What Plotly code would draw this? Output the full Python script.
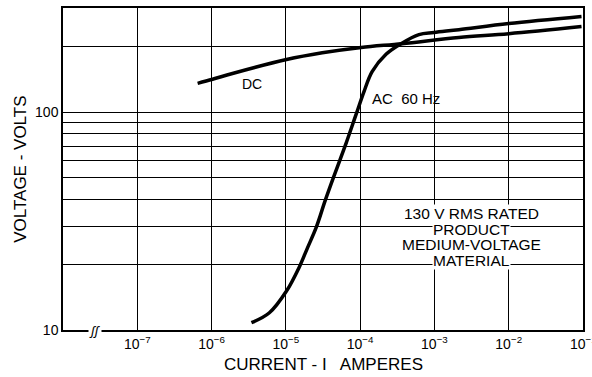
import math
import plotly.graph_objects as go

# AC 60 Hz curve (amperes, volts)
ac_current = [3.44e-6, 6.0e-6, 1.02e-5, 1.52e-5, 1.95e-5, 2.57e-5, 3.39e-5, 4.48e-5,
              6.46e-5, 8.82e-5, 1.13e-4, 1.45e-4, 2.23e-4, 3.55e-4, 6.19e-4,
              9.84e-4, 2.13e-3, 1.0e-2, 9.55e-2]
ac_voltage = [10.8, 12.0, 15.1, 19.5, 23.8, 29.7, 39.4, 51.4,
              72.1, 97.9, 125, 154, 185, 207, 228,
              233, 240, 256, 276]

# DC curve
dc_current = [6.49e-7, 1.03e-6, 1.91e-6, 1.02e-5, 3.09e-5, 1.03e-4, 3.66e-4,
              2.13e-3, 1.0e-2, 9.55e-2]
dc_voltage = [136, 142, 151, 175, 188, 199, 207, 221, 230, 248]

x_ticks = [1e-7, 1e-6, 1e-5, 1e-4, 1e-3, 1e-2]
x_labels = ['10<sup>−7</sup>', '10<sup>−6</sup>', '10<sup>−5</sup>', '10<sup>−4</sup>',
            '10<sup>−3</sup>', '10<sup>−2</sup>']
# last decade sits on the right border, its label runs off the page
edge_tick = -1
edge_label = '10<sup>−1</sup>'
y_ticks = [10, 20, 30, 40, 50, 60, 70, 80, 90, 100, 200]
y_labels = ['10', '', '', '', '', '', '', '', '', '100', '']

note_lines = ['130 V RMS RATED', 'PRODUCT', 'MEDIUM-VOLTAGE', 'MATERIAL']
note_volts = [34.4, 29.1, 24.8, 20.9]

font = 'Liberation Sans'

fig = go.Figure()
fig.add_trace(go.Scatter(x=dc_current, y=dc_voltage, mode='lines', line_shape='spline',
                         line=dict(color='black', width=3.5), name='DC'))
fig.add_trace(go.Scatter(x=ac_current, y=ac_voltage, mode='lines', line_shape='spline',
                         line=dict(color='black', width=3.5), name='AC 60 Hz'))

ann = [
    dict(x=-5.45, y=2.133, xref='x', yref='y', text='DC', showarrow=False,
         font=dict(size=14)),
    dict(x=-3.38, y=2.064, xref='x', yref='y', text='AC  60 Hz', showarrow=False,
         font=dict(size=15)),
    dict(x=0.5, y=-0.108, xref='paper', yref='paper', text='CURRENT - I   AMPERES',
         showarrow=False, font=dict(size=17), yanchor='middle'),
    dict(x=-0.083, y=0.5, xref='paper', yref='paper', text='VOLTAGE - VOLTS',
         showarrow=False, textangle=-90, font=dict(size=17), xanchor='center'),
    dict(x=-7.57, y=1.0, xref='x', yref='y', text='<i>ʃʃ</i>', showarrow=False,
         bgcolor='white', font=dict(size=13), borderpad=0),
    dict(x=edge_tick, y=-0.04, xref='x', yref='paper', text=edge_label,
         showarrow=False, yanchor='middle', font=dict(size=14)),
]
for t, v in zip(note_lines, note_volts):
    ann.append(dict(x=-2.5, y=math.log10(v), xref='x', yref='y', text=t,
                    showarrow=False, bgcolor='white', borderpad=0, font=dict(size=15.5)))

fig.update_layout(
    width=592, height=377,
    margin=dict(l=63, r=9, t=6, b=47),
    paper_bgcolor='white', plot_bgcolor='white',
    font=dict(family=font, color='black', size=14),
    showlegend=False,
    annotations=ann,
)
fig.update_xaxes(type='log', range=[-8, -1], tickvals=x_ticks, ticktext=x_labels,
                 showgrid=True, gridcolor='black', gridwidth=1.2,
                 showline=True, linecolor='black', linewidth=1.5, mirror=True,
                 ticks='', zeroline=False)
fig.update_yaxes(type='log', range=[1, 2.48], tickvals=y_ticks, ticktext=y_labels,
                 showgrid=True, gridcolor='black', gridwidth=1.2,
                 showline=True, linecolor='black', linewidth=1.5, mirror=True,
                 ticks='', zeroline=False)

fig.write_html('out.html', config={'displayModeBar': False},
               post_script="document.body.style.margin='0';")
